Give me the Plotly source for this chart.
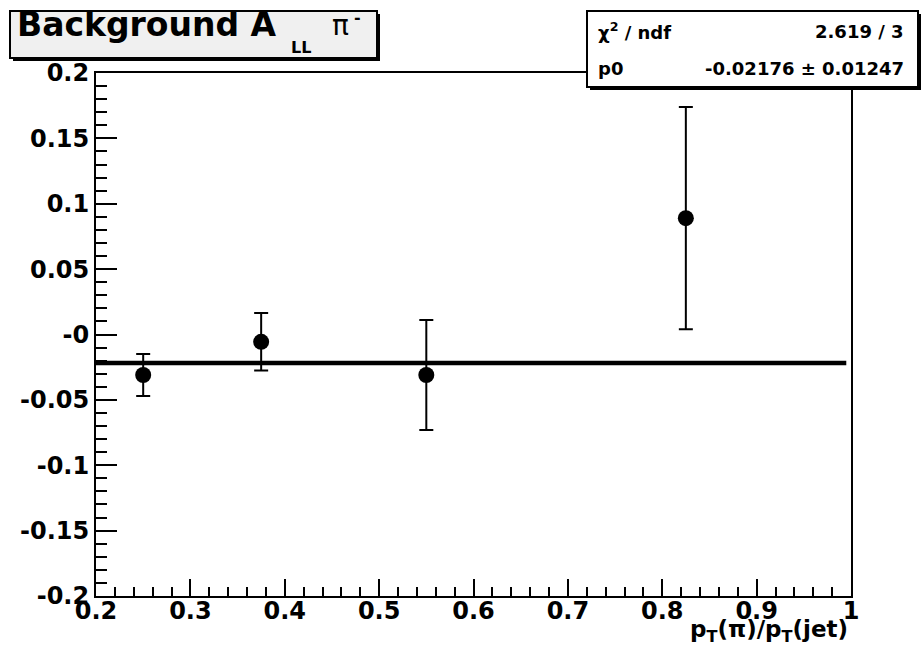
import plotly.graph_objects as go

# --- data -------------------------------------------------------------
frac_x = [0.25, 0.375, 0.55, 0.825]          # p_T(pi)/p_T(jet)
a_ll = [-0.031, -0.0056, -0.031, 0.089]      # background A_LL
a_ll_err = [0.016, 0.022, 0.042, 0.085]

fit_p0 = -0.02176
fit_p0_err = 0.01247
fit_chi2 = 2.619
fit_ndf = 3
fit_range = [0.2, 0.995]

y_tick_vals = [-0.2, -0.15, -0.1, -0.05, 0.0, 0.05, 0.1, 0.15, 0.2]
y_tick_text = ["-0.2", "-0.15", "-0.1", "-0.05", "-0", "0.05", "0.1", "0.15", "0.2"]
x_tick_vals = [0.2, 0.3, 0.4, 0.5, 0.6, 0.7, 0.8, 0.9, 1.0]
x_tick_text = ["0.2", "0.3", "0.4", "0.5", "0.6", "0.7", "0.8", "0.9", "1"]

# --- layout geometry (pixels) -----------------------------------------
W, H = 922, 648
L, R, T, B = 96, 851, 73, 596
FONT = "DejaVu Sans"


def px(x):
    return (x - L) / (R - L)


def py(y):
    return (B - y) / (B - T)


fig = go.Figure()

# constant fit
fig.add_trace(go.Scatter(
    x=fit_range, y=[fit_p0, fit_p0], mode="lines",
    line=dict(color="black", width=4.5), hoverinfo="skip", showlegend=False,
))

# measured points
fig.add_trace(go.Scatter(
    x=frac_x, y=a_ll, mode="markers",
    marker=dict(color="black", size=16, symbol="circle"),
    error_y=dict(type="data", array=a_ll_err, visible=True,
                 color="black", thickness=2, width=7),
    showlegend=False,
))

axis_font = dict(family=FONT, size=24, color="black", weight="bold")

fig.update_xaxes(
    range=[0.2, 1.0], tickmode="array", tickvals=x_tick_vals, ticktext=x_tick_text,
    ticks="inside", ticklen=17, tickwidth=2, tickcolor="black",
    minor=dict(dtick=0.02, ticks="inside", ticklen=9, tickwidth=2, tickcolor="black"),
    showline=True, linecolor="black", linewidth=2, mirror=True,
    showgrid=False, zeroline=False, tickfont=axis_font, ticklabelstandoff=-8,
)
fig.update_yaxes(
    range=[-0.2, 0.2], tickmode="array", tickvals=y_tick_vals, ticktext=y_tick_text,
    ticks="inside", ticklen=21, tickwidth=2, tickcolor="black",
    minor=dict(dtick=0.01, ticks="inside", ticklen=11, tickwidth=2, tickcolor="black"),
    showline=True, linecolor="black", linewidth=2, mirror=True,
    showgrid=False, zeroline=False, tickfont=axis_font,
)

shapes = [
    # title pave with shadow
    dict(type="rect", xref="paper", yref="paper", layer="above",
         x0=px(13), x1=px(380), y0=py(61), y1=py(14),
         fillcolor="black", line=dict(width=0)),
    dict(type="rect", xref="paper", yref="paper", layer="above",
         x0=px(10), x1=px(377), y0=py(58), y1=py(11),
         fillcolor="#f0f0f0", line=dict(color="black", width=2)),
    # fit statistics box with shadow
    dict(type="rect", xref="paper", yref="paper", layer="above",
         x0=px(590), x1=px(921), y0=py(90), y1=py(14),
         fillcolor="black", line=dict(width=0)),
    dict(type="rect", xref="paper", yref="paper", layer="above",
         x0=px(587), x1=px(918), y0=py(87), y1=py(11),
         fillcolor="white", line=dict(color="black", width=2)),
]


def label(text, x, y, size, xanchor="left", yanchor="middle", bold=True):
    return dict(text=text, x=px(x), y=py(y), xref="paper", yref="paper",
                xanchor=xanchor, yanchor=yanchor, showarrow=False,
                font=dict(family=FONT, size=size, color="black",
                          weight="bold" if bold else "normal"))


annotations = [
    label("Background A", 15, 25, 33),
    label("LL", 289, 48, 16),
    label("π", 330, 26, 28, bold=False),
    label("-", 352, 17, 16),
    label("χ<sup>2</sup> / ndf", 596, 31, 18),
    label(f"{fit_chi2} / {fit_ndf}", 906, 31, 18, xanchor="right"),
    label("p0", 596, 68, 18),
    label(f"{fit_p0} ± {fit_p0_err}", 906, 68, 18, xanchor="right"),
    label("p<sub>T</sub>(π)/p<sub>T</sub>(jet)", 850, 631, 23, xanchor="right"),
]

fig.update_layout(
    width=W, height=H,
    margin=dict(l=L, r=W - R, t=T, b=H - B, pad=0),
    paper_bgcolor="white", plot_bgcolor="white",
    shapes=shapes, annotations=annotations,
    showlegend=False,
)

fig.write_html("out.html", config={"displayModeBar": False})
